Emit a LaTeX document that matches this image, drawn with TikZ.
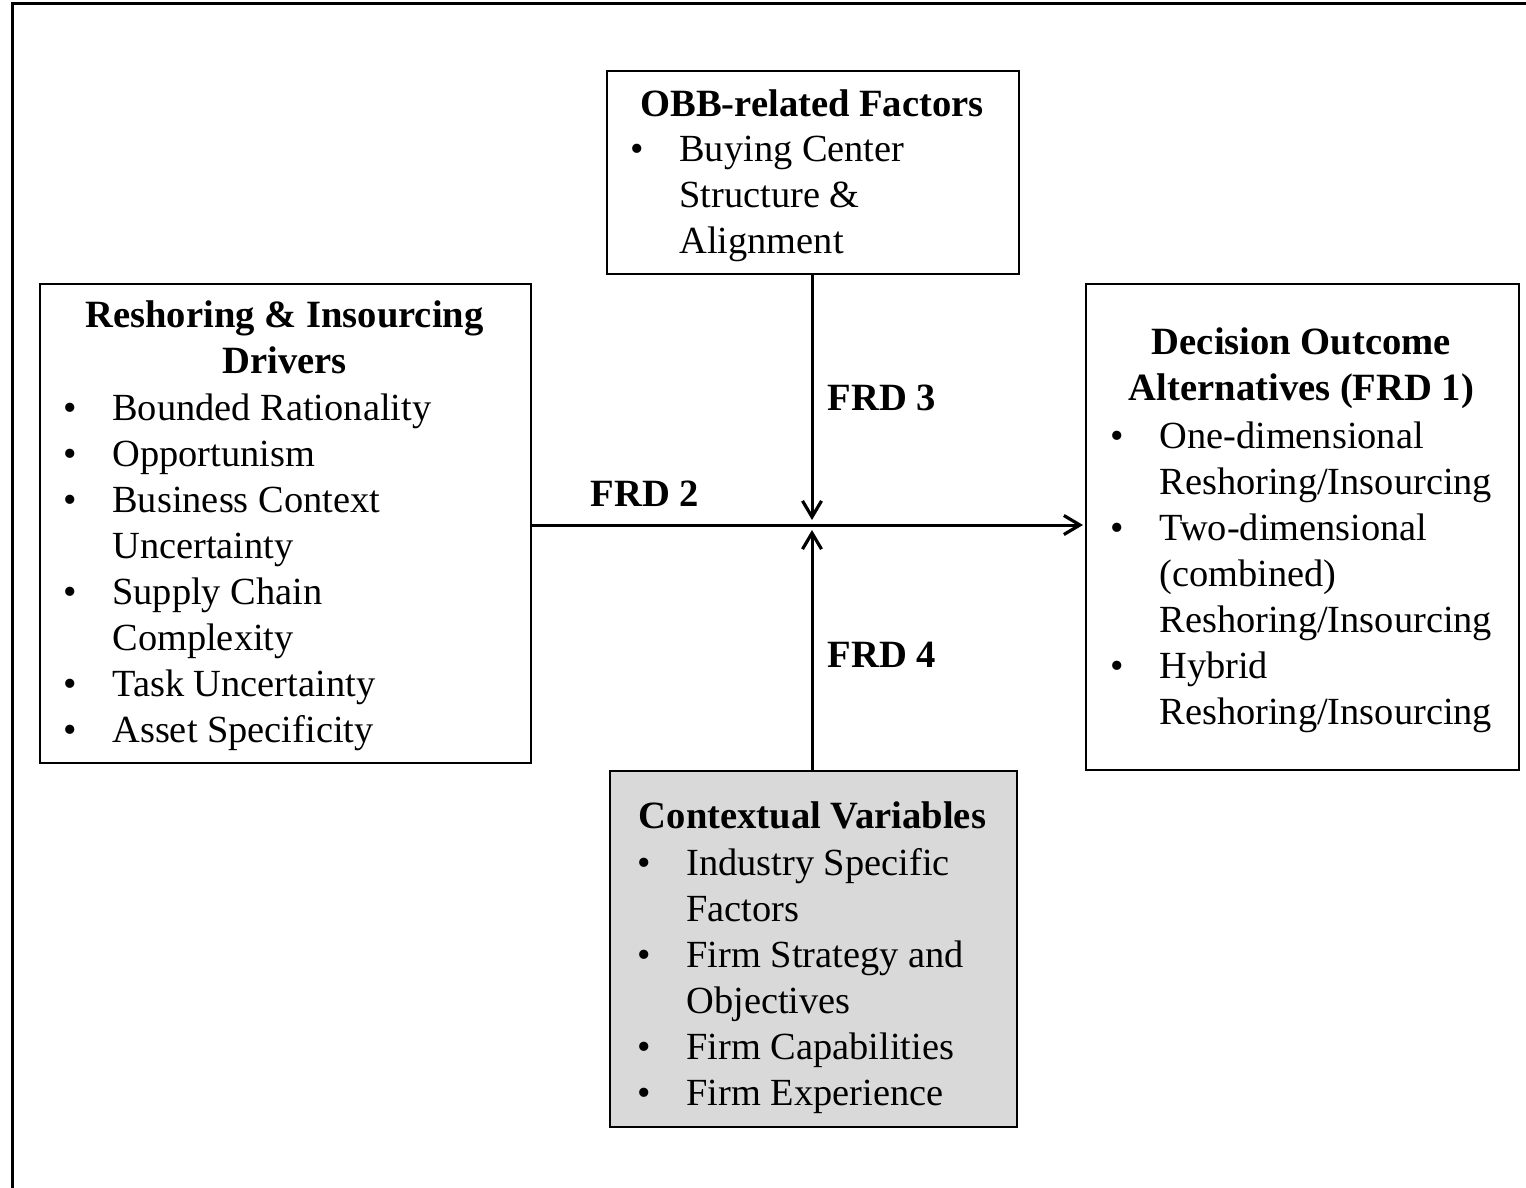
\documentclass[tikz,border=0pt]{standalone}
\usepackage{fontspec}
\setmainfont{Liberation Serif}
\usetikzlibrary{arrows.meta}

\newcommand{\bul}{\makebox[24.5pt][l]{\textbullet}}
\newcommand{\cont}{\hspace*{24.5pt}}

\begin{document}
\begin{tikzpicture}[x=0.5pt,y=-0.5pt,
        caja/.style={draw,line width=0.8pt,inner sep=0pt,anchor=north west},
        titulo/.style={anchor=north,align=center,inner sep=0pt,font=\fontsize{19.3}{23}\selectfont\bfseries},
        lista/.style={anchor=north west,align=left,inner sep=0pt,font=\fontsize{19.2}{23}\selectfont},
        frd/.style={inner sep=0pt,font=\fontsize{19.3}{23}\selectfont\bfseries},
        flecha/.style={line width=1.5pt,-{Straight Barb[length=8pt,width=9.5pt,line width=1.6pt]}}]
        \useasboundingbox (0,0) rectangle (1526,1188);

        % Marco de la figura
        \draw[line width=1.5pt] (12,1188) -- (12,4) -- (1526,4);

        % Cajas
        \node[caja,minimum width=206pt,minimum height=101.5pt] (obb) at (606,70) {};
        \node[caja,minimum width=245.5pt,minimum height=239.5pt] (drv) at (39,283) {};
        \node[caja,minimum width=216.5pt,minimum height=243pt] (alt) at (1085,283) {};
        \node[caja,fill=black!15,minimum width=203.5pt,minimum height=178pt] (ctx) at (609,770) {};

        % Factores OBB
        \node[titulo] (obbT) at (812,89) {OBB-related Factors};
        \node[lista] (obbL) at (630,136) {\bul Buying Center\\
            \cont Structure \&\\
            \cont Alignment};

        % Impulsores
        \node[titulo] (drvT) at (284.5,300) {Reshoring \& Insourcing\\Drivers};
        \node[lista] (drvL) at (63,393) {\bul Bounded Rationality\\
            \bul Opportunism\\
            \bul Business Context\\
            \cont Uncertainty\\
            \bul Supply Chain\\
            \cont Complexity\\
            \bul Task Uncertainty\\
            \bul Asset Specificity};

        % Alternativas
        \node[titulo] (altT) at (1301.5,327) {Decision Outcome\\Alternatives (FRD 1)};
        \node[lista] (altL) at (1110,421) {\bul One-dimensional\\
            \cont Reshoring/Insourcing\\
            \bul Two-dimensional\\
            \cont (combined)\\
            \cont Reshoring/Insourcing\\
            \bul Hybrid\\
            \cont Reshoring/Insourcing};

        % Variables contextuales
        \node[titulo] (ctxT) at (812.5,801) {Contextual Variables};
        \node[lista] (ctxL) at (637,848) {\bul Industry Specific\\
            \cont Factors\\
            \bul Firm Strategy and\\
            \cont Objectives\\
            \bul Firm Capabilities\\
            \bul Firm Experience};

        % Flechas
        \coordinate (cen) at (812,525);
        \draw[flecha] (drv.east |- cen) -- ([xshift=-1pt]alt.west |- cen);
        \draw[flecha,shorten >=2.5pt] (obb.south -| cen) -- (cen);
        \draw[flecha,shorten >=2.5pt] (ctx.north -| cen) -- (cen);

        % Etiquetas FRD
        \node[frd] (f2) at (645,494) {FRD 2};
        \node[frd] (f3) at (882,398) {FRD 3};
        \node[frd] (f4) at (882,655) {FRD 4};
    \end{tikzpicture}
\end{document}
